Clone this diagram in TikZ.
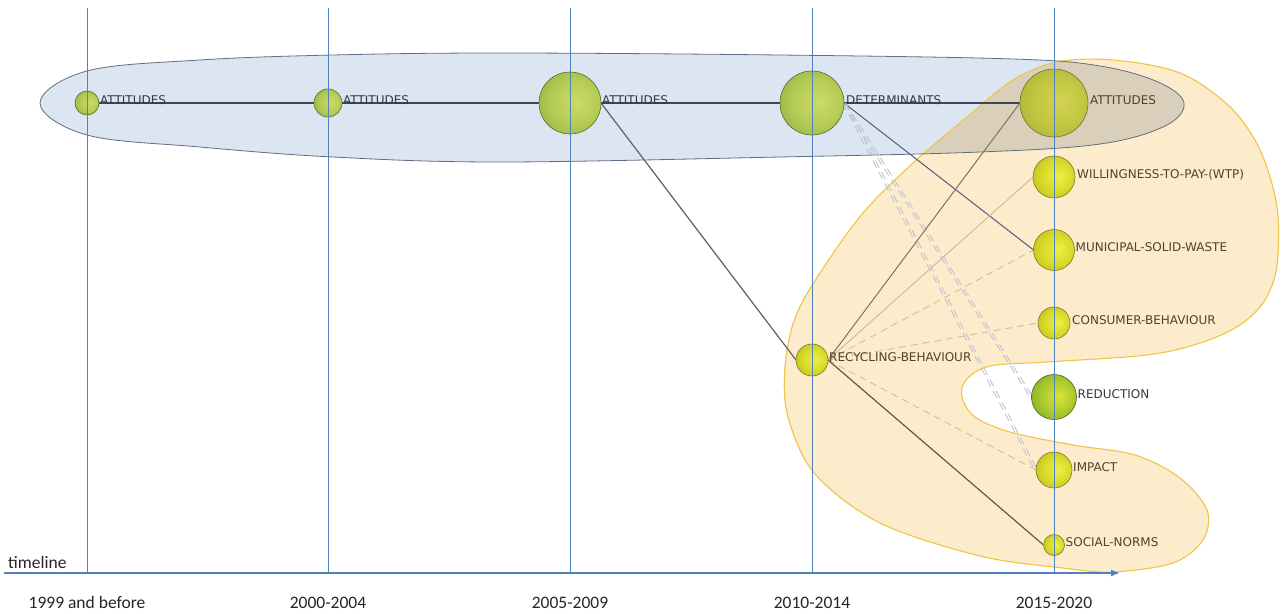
\documentclass[tikz,border=0pt]{standalone}
\usepackage{fontspec}
\setmainfont{Carlito}
\newfontfamily\labfont{DejaVu Sans}
\usetikzlibrary{arrows.meta}

% palette
\definecolor{bluefill}{RGB}{220,230,243}
\definecolor{blueline}{RGB}{96,110,130}
\definecolor{orfill}{RGB}{253,236,204}
\definecolor{orline}{RGB}{240,196,70}
\definecolor{ovfill}{RGB}{218,207,186}
\definecolor{gridblue}{RGB}{79,129,189}
\definecolor{hline}{RGB}{60,70,88}
\definecolor{labblue}{RGB}{50,56,70}
\definecolor{labbrown}{RGB}{82,66,42}

% ball colours
\definecolor{gbA}{RGB}{204,218,104}
\definecolor{gbB}{RGB}{182,204,86}
\definecolor{gbC}{RGB}{132,168,56}
\definecolor{gbD}{RGB}{84,114,38}
\definecolor{gline}{RGB}{84,108,46}
\definecolor{ybA}{RGB}{238,238,72}
\definecolor{ybB}{RGB}{218,218,42}
\definecolor{ybC}{RGB}{178,178,24}
\definecolor{ybD}{RGB}{124,124,18}
\definecolor{yline}{RGB}{122,122,36}
\definecolor{obA}{RGB}{210,210,84}
\definecolor{obB}{RGB}{194,198,66}
\definecolor{obC}{RGB}{160,170,48}
\definecolor{obD}{RGB}{112,126,36}
\definecolor{oline}{RGB}{108,114,58}
\definecolor{rbA}{RGB}{218,228,52}
\definecolor{rbB}{RGB}{172,202,46}
\definecolor{rbC}{RGB}{114,158,38}
\definecolor{rbD}{RGB}{70,112,26}
\definecolor{rline}{RGB}{66,100,30}

\pgfdeclareradialshading{gball}{\pgfpoint{6bp}{1bp}}{color(0bp)=(gbA); color(18bp)=(gbB); color(40bp)=(gbC); color(50bp)=(gbD)}
\pgfdeclareradialshading{yball}{\pgfpoint{6bp}{1bp}}{color(0bp)=(ybA); color(18bp)=(ybB); color(40bp)=(ybC); color(50bp)=(ybD)}
\pgfdeclareradialshading{oball}{\pgfpoint{6bp}{1bp}}{color(0bp)=(obA); color(18bp)=(obB); color(40bp)=(obC); color(50bp)=(obD)}
\pgfdeclareradialshading{rball}{\pgfpoint{6bp}{1bp}}{color(0bp)=(rbA); color(18bp)=(rbB); color(40bp)=(rbC); color(50bp)=(rbD)}

\pgfdeclarelayer{bg}
\pgfdeclarelayer{edges}
\pgfdeclarelayer{fg}
\pgfsetlayers{bg,edges,main,fg}

\begin{document}
\begin{tikzpicture}[x=1pt,y=-1pt,
  ball/.style={circle, inner sep=0pt, outer sep=0pt, line width=0.6pt, shading=#1},
  lab/.style={font=\labfont\fontsize{12}{14}\selectfont, inner sep=0pt, anchor=base west},
  yearlab/.style={font=\fontsize{17.5}{20}\selectfont, text=black!85, inner sep=0pt, anchor=base},
  vline/.style={draw=gridblue, line width=0.9pt},
  axisline/.style={draw=gridblue, line width=1.5pt, -{Latex[length=9pt,width=7pt]}},
  timeline/.style={draw=hline, line width=1.6pt},
  soliddark/.style={draw=black!62, line width=1.2pt},
  solidslate/.style={draw=black!50!blue!30!gray, line width=1pt},
  solidbrown/.style={draw={rgb,255:red,138;green,112;blue,82}, line width=1pt},
  solidtan/.style={draw={rgb,255:red,210;green,182;blue,145}, line width=0.9pt},
  solidnorm/.style={draw={rgb,255:red,105;green,88;blue,62}, line width=1.2pt},
  tandash/.style={draw={rgb,255:red,214;green,188;blue,152}, line width=0.9pt, dash pattern=on 7pt off 5pt},
  greydash/.style={draw={rgb,255:red,184;green,192;blue,208}, line width=0.8pt, dash pattern=on 8pt off 5pt},
  blueregion/.style={insert path={plot[smooth cycle, tension=0.6] coordinates {
    (40,103) (87,71) (200,60) (333,55) (500,53) (780,55) (1013,59)
    (1100,66) (1158,82) (1184,103) (1165,126) (1100,144) (980,152) (780,157)
    (500,162) (333,157) (200,147) (87,135)}}},
  orangeregion/.style={insert path={plot[smooth cycle, tension=0.55] coordinates {
    (1057,62) (1113,60) (1180,73) (1230,107) (1260,150) (1277,207) (1277,265)
    (1265,300) (1240,325) (1200,343) (1147,355) (1047,362) (990,366) (966,380)
    (962,397) (975,417) (1010,432) (1073,445) (1135,455) (1180,478) (1207,510)
    (1203,540) (1173,563) (1113,572) (1063,568) (980,556) (880,523) (815,474)
    (788,417) (785,367) (795,318) (820,273) (863,213) (913,163) (967,117) (1013,80)}}}
]
\useasboundingbox (0,0) rectangle (1282,613);

% clusters
\begin{pgfonlayer}{bg}
  \fill[white] (0,0) rectangle (1282,613);
  \fill[bluefill, blueregion];
  \fill[orfill, orangeregion];
  \begin{scope}
    \clip[blueregion];
    \fill[ovfill, orangeregion];
  \end{scope}
  \draw[orline, line width=1.1pt, orangeregion];
  \draw[blueline, line width=0.8pt, blueregion];
\end{pgfonlayer}

% themes
\node[ball=gball, draw=gline, minimum size=24pt] (A1) at (87,103) {};
\node[ball=gball, draw=gline, minimum size=28pt] (A2) at (328,103) {};
\node[ball=gball, draw=gline, minimum size=62pt] (A3) at (570,103) {};
\node[ball=gball, draw=gline, minimum size=64pt] (D) at (812,103) {};
\node[ball=oball, draw=oline, minimum size=68pt] (A5) at (1054,103) {};
\node[ball=yball, draw=yline, minimum size=42pt] (WTP) at (1054,177) {};
\node[ball=yball, draw=yline, minimum size=41pt] (MSW) at (1054,250) {};
\node[ball=yball, draw=yline, minimum size=32pt] (CB) at (1054,323) {};
\node[ball=rball, draw=rline, minimum size=45pt] (RED) at (1054,397) {};
\node[ball=yball, draw=yline, minimum size=36pt] (IMP) at (1054,470) {};
\node[ball=yball, draw=yline, minimum size=21pt] (SN) at (1054,545) {};
\node[ball=yball, draw=yline, minimum size=32pt] (RB) at (812,360) {};

% theme labels
\node[lab, text=labblue] (A1t) at ([xshift=1pt,yshift=-1pt]A1.east) {ATTITUDES};
\node[lab, text=labblue] (A2t) at ([xshift=1pt,yshift=-1pt]A2.east) {ATTITUDES};
\node[lab, text=labblue] (A3t) at ([xshift=1pt,yshift=-1pt]A3.east) {ATTITUDES};
\node[lab, text=labblue] (Dt) at ([xshift=2pt,yshift=-1pt]D.east) {DETERMINANTS};
\node[lab, text=labbrown] (A5t) at ([xshift=2pt,yshift=-1pt]A5.east) {ATTITUDES};
\node[lab, text=labbrown] (WTPt) at ([xshift=2pt,yshift=-1pt]WTP.east) {WILLINGNESS-TO-PAY-(WTP)};
\node[lab, text=labbrown] (MSWt) at ([xshift=1pt,yshift=-1pt]MSW.east) {MUNICIPAL-SOLID-WASTE};
\node[lab, text=labbrown] (CBt) at ([xshift=2pt,yshift=-1pt]CB.east) {CONSUMER-BEHAVIOUR};
\node[lab, text=black!78] (REDt) at ([xshift=1pt,yshift=-1pt]RED.east) {REDUCTION};
\node[lab, text=labbrown] (IMPt) at ([xshift=1pt,yshift=-1pt]IMP.east) {IMPACT};
\node[lab, text=labbrown] (SNt) at ([xshift=1pt,yshift=-1pt]SN.east) {SOCIAL-NORMS};
\node[lab, text=labbrown] (RBt) at ([xshift=1pt,yshift=-1pt]RB.east) {RECYCLING-BEHAVIOUR};

% evolution links
\begin{pgfonlayer}{edges}
  \draw[timeline, line width=2pt] (A1.east) -- (A2.west);
  \draw[timeline] (A2.east) -- (A3.west);
  \draw[timeline] (A3.east) -- (D.west);
  \draw[timeline] (D.east) -- (A5.west);
  \draw[soliddark] (A3.east) -- (RB.west);
  \draw[solidslate] (D.east) -- (MSW.west);
  \draw[greydash] ([xshift=-1.4pt]D.east) -- ([xshift=-1.4pt]RED.west);
  \draw[greydash] ([xshift=1.4pt]D.east) -- ([xshift=1.4pt]RED.west);
  \draw[greydash] ([xshift=-1.4pt]D.east) -- ([xshift=-1.4pt]IMP.west);
  \draw[greydash] ([xshift=1.4pt]D.east) -- ([xshift=1.4pt]IMP.west);
  \draw[solidbrown] (RB.east) -- (A5.west);
  \draw[solidtan] (RB.east) -- (WTP.west);
  \draw[tandash] (RB.east) -- (MSW.west);
  \draw[tandash] (RB.east) -- (CB.west);
  \draw[tandash] (RB.east) -- (IMP.west);
  \draw[solidnorm] (RB.east) -- (SN.west);
\end{pgfonlayer}

% period grid and time axis
\begin{pgfonlayer}{fg}
  \foreach \px in {87,328,570,812,1054}
    \draw[vline] (\px,8) -- (\px,573);
  \coordinate (axs) at (4,573);
  \coordinate (axe) at (1120,573);
  \draw[axisline] (axs) -- (axe);
\end{pgfonlayer}

\node[yearlab, anchor=base west] (tl) at (8,568) {timeline};
\node[yearlab] (p1) at (87,608) {1999 and before};
\node[yearlab] (p2) at (328,608) {2000-2004};
\node[yearlab] (p3) at (570,608) {2005-2009};
\node[yearlab] (p4) at (812,608) {2010-2014};
\node[yearlab] (p5) at (1054,608) {2015-2020};
\end{tikzpicture}
\end{document}
